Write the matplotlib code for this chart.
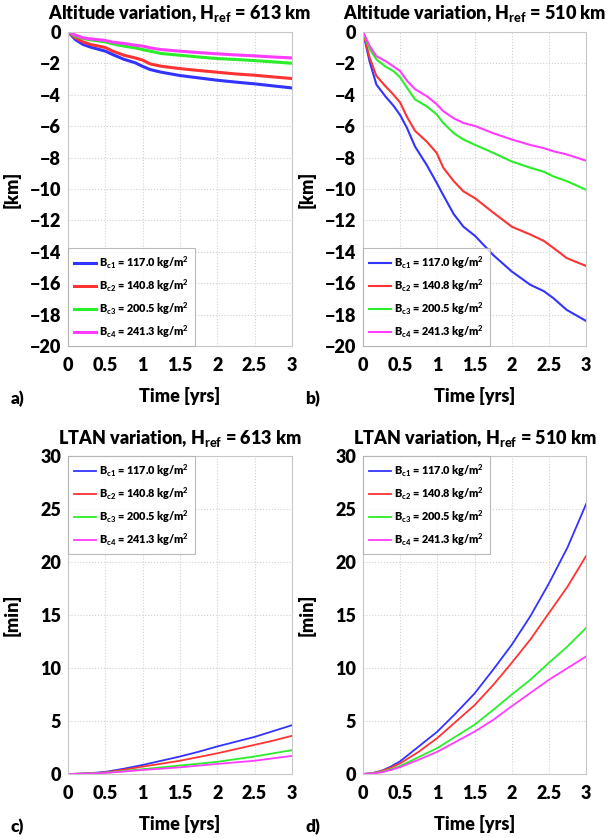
import numpy as np
import matplotlib
matplotlib.use('Agg')
import matplotlib.pyplot as plt

W = 'heavy'
plt.rcParams['font.family'] = ['Lato', 'DejaVu Sans']
plt.rcParams['font.weight'] = W
plt.rcParams['mathtext.fontset'] = 'custom'
plt.rcParams['mathtext.rm'] = 'Lato:black'
plt.rcParams['mathtext.it'] = 'Lato:black'
plt.rcParams['mathtext.bf'] = 'Lato:black'
plt.rcParams['mathtext.default'] = 'rm'

# altitude variation, H_ref = 613 km
t_a = [0, 0.1, 0.2, 0.3, 0.5, 0.6, 0.75, 0.9, 1.0, 1.1, 1.25, 1.5, 1.75, 2.0, 2.25, 2.5, 2.75, 3.0]
alt613_c1 = [0, -0.5, -0.8, -0.97, -1.23, -1.45, -1.75, -1.97, -2.2, -2.4, -2.57, -2.78, -2.93, -3.08, -3.2, -3.31, -3.44, -3.57]
alt613_c2 = [0, -0.38, -0.64, -0.8, -1.0, -1.23, -1.49, -1.66, -1.8, -2.04, -2.19, -2.34, -2.46, -2.57, -2.68, -2.76, -2.87, -2.97]
alt613_c3 = [0, -0.28, -0.42, -0.51, -0.64, -0.76, -0.91, -1.02, -1.13, -1.23, -1.38, -1.49, -1.6, -1.7, -1.76, -1.83, -1.91, -2.0]
alt613_c4 = [0, -0.21, -0.38, -0.45, -0.55, -0.66, -0.74, -0.85, -0.91, -1.02, -1.13, -1.23, -1.32, -1.4, -1.47, -1.53, -1.6, -1.66]

# altitude variation, H_ref = 510 km
t_b = [0, 0.09, 0.18, 0.3, 0.41, 0.5, 0.59, 0.7, 0.86, 0.99, 1.08, 1.22, 1.35, 1.51, 1.75, 2.0, 2.25, 2.43, 2.56, 2.74, 3.0]
alt510_c1 = [0, -1.9, -3.35, -4.1, -4.7, -5.3, -6.1, -7.3, -8.5, -9.6, -10.4, -11.6, -12.4, -13.0, -14.2, -15.25, -16.1, -16.5, -16.95, -17.7, -18.4]
alt510_c2 = [0, -1.65, -2.8, -3.45, -4.0, -4.5, -5.4, -6.3, -7.0, -7.7, -8.65, -9.5, -10.15, -10.6, -11.5, -12.4, -12.9, -13.3, -13.75, -14.4, -14.9]
alt510_c3 = [0, -1.1, -1.75, -2.2, -2.5, -2.9, -3.55, -4.3, -4.75, -5.25, -5.8, -6.45, -6.85, -7.2, -7.7, -8.25, -8.65, -8.9, -9.2, -9.5, -10.05]
alt510_c4 = [0, -0.9, -1.55, -1.85, -2.2, -2.5, -3.1, -3.65, -4.1, -4.6, -5.05, -5.5, -5.8, -6.0, -6.45, -6.85, -7.2, -7.4, -7.6, -7.8, -8.2]

# LTAN variation
t_l = [0, 0.125, 0.25, 0.375, 0.5, 0.75, 1.0, 1.25, 1.5, 1.75, 2.0, 2.25, 2.5, 2.75, 3.0]
ltan613_c1 = [0, 0.02, 0.06, 0.12, 0.2, 0.5, 0.85, 1.25, 1.65, 2.1, 2.6, 3.05, 3.5, 4.05, 4.6]
ltan613_c2 = [0, 0.02, 0.05, 0.09, 0.15, 0.4, 0.7, 0.97, 1.25, 1.6, 1.95, 2.35, 2.75, 3.15, 3.6]
ltan613_c3 = [0, 0.01, 0.04, 0.07, 0.12, 0.28, 0.45, 0.62, 0.8, 0.97, 1.15, 1.4, 1.65, 1.95, 2.25]
ltan613_c4 = [0, 0.01, 0.03, 0.06, 0.1, 0.23, 0.38, 0.5, 0.63, 0.79, 0.95, 1.1, 1.25, 1.48, 1.7]

ltan510_c1 = [0, 0.08, 0.3, 0.7, 1.2, 2.6, 4.0, 5.75, 7.6, 9.85, 12.2, 14.9, 18.0, 21.4, 25.5]
ltan510_c2 = [0, 0.07, 0.28, 0.6, 1.0, 2.1, 3.4, 4.95, 6.5, 8.4, 10.5, 12.7, 15.2, 17.7, 20.6]
ltan510_c3 = [0, 0.05, 0.2, 0.45, 0.75, 1.6, 2.45, 3.55, 4.65, 6.05, 7.5, 8.9, 10.5, 12.05, 13.8]
ltan510_c4 = [0, 0.04, 0.15, 0.38, 0.65, 1.35, 2.1, 3.05, 4.0, 5.1, 6.4, 7.65, 8.9, 10.0, 11.1]

labels = [r'B$_{c1}$ = 117.0 kg/m$^2$', r'B$_{c2}$ = 140.8 kg/m$^2$',
          r'B$_{c3}$ = 200.5 kg/m$^2$', r'B$_{c4}$ = 241.3 kg/m$^2$']
colors = ['#3333ff', '#ff3333', '#2aee2a', '#ff3cff']

fig = plt.figure(figsize=(6.08, 8.38), dpi=100)

panels = [
    ([0.112, 0.587, 0.368, 0.375], t_a, [alt613_c1, alt613_c2, alt613_c3, alt613_c4],
     r'Altitude variation, H$_{ref}$ = 613 km', '[km]', (-20, 0), 2, 'lower left', 'a)', 2.2),
    ([0.597, 0.587, 0.367, 0.375], t_b, [alt510_c1, alt510_c2, alt510_c3, alt510_c4],
     r'Altitude variation, H$_{ref}$ = 510 km', '[km]', (-20, 0), 2, 'lower left', 'b)', 1.5),
    ([0.112, 0.0764, 0.368, 0.379], t_l, [ltan613_c1, ltan613_c2, ltan613_c3, ltan613_c4],
     r'LTAN variation, H$_{ref}$ = 613 km', '[min]', (0, 30), 5, 'upper left', 'c)', 1.3),
    ([0.597, 0.0764, 0.367, 0.379], t_l, [ltan510_c1, ltan510_c2, ltan510_c3, ltan510_c4],
     r'LTAN variation, H$_{ref}$ = 510 km', '[min]', (0, 30), 5, 'upper left', 'd)', 1.3),
]

for rect, x, series, title, ylab, ylim, ystep, loc, tag, lw in panels:
    ax = fig.add_axes(rect)
    for s, c, lab in zip(series, colors, labels):
        ax.plot(x, s, color=c, lw=lw, label=lab)
    ax.set_xlim(0, 3)
    ax.set_ylim(*ylim)
    ax.set_xticks(np.arange(0, 3.01, 0.5))
    ax.set_xticklabels(['0', '0.5', '1', '1.5', '2', '2.5', '3'])
    ax.set_yticks(np.arange(ylim[0], ylim[1] + 0.01, ystep))
    ax.tick_params(labelsize=13, length=0)
    ax.tick_params(axis='x', pad=8)
    ax.tick_params(axis='y', pad=5)
    for lbl in ax.get_xticklabels() + ax.get_yticklabels():
        lbl.set_fontweight(W)
    ax.grid(True, color='#d0d0d0', linestyle=':', linewidth=0.8)
    for sp in ax.spines.values():
        sp.set_color('#c8c8c8')
        sp.set_linewidth(0.8)
    ax.set_title(title, fontsize=13, fontweight=W, pad=9)
    ax.set_ylabel(ylab, fontsize=13, fontweight=W)
    ax.yaxis.set_label_coords(-0.21, 0.5)
    ax.set_xlabel('Time [yrs]', fontsize=13, fontweight=W, labelpad=9)
    leg = ax.legend(loc=loc, fontsize=7.8, frameon=True, fancybox=False,
                    borderaxespad=0, handlelength=2.0, handletextpad=0.3,
                    labelspacing=0.6, borderpad=0.55)
    leg.get_frame().set_edgecolor('#aaaaaa')
    leg.get_frame().set_linewidth(0.8)
    for txt in leg.get_texts():
        txt.set_fontweight(W)
    fig.text(rect[0] - 0.095, rect[1] - 0.069, tag, fontsize=12.5, fontweight=W)

fig.savefig('out.png', dpi=100)
